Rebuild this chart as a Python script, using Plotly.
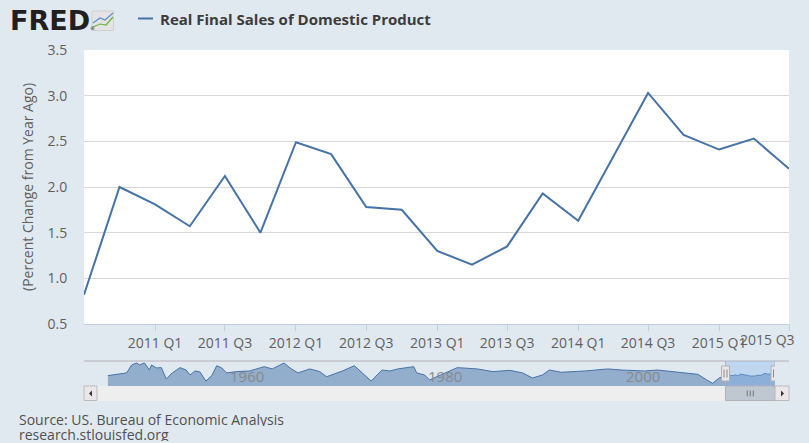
import plotly.graph_objects as go

# ---------------- data ----------------
DATES = ["2010-07-01", "2010-10-01", "2011-01-01", "2011-04-01", "2011-07-01", "2011-10-01",
         "2012-01-01", "2012-04-01", "2012-07-01", "2012-10-01", "2013-01-01", "2013-04-01",
         "2013-07-01", "2013-10-01", "2014-01-01", "2014-04-01", "2014-07-01", "2014-10-01",
         "2015-01-01", "2015-04-01", "2015-07-01"]
VALUES = [0.82, 2.00, 1.81, 1.57, 2.12, 1.50, 2.49, 2.36, 1.78, 1.75, 1.30, 1.15,
          1.35, 1.93, 1.63, 2.33, 3.03, 2.57, 2.41, 2.53, 2.20]

TICK_DATES = ["2011-01-01", "2011-07-01", "2012-01-01", "2012-07-01", "2013-01-01",
              "2013-07-01", "2014-01-01", "2014-07-01", "2015-01-01", "2015-07-01"]
TICK_LABELS = ["2011 Q1", "2011 Q3", "2012 Q1", "2012 Q3", "2013 Q1",
               "2013 Q3", "2014 Q1", "2014 Q3", "2015 Q1", "2015 Q3"]
Y_TICKS = [0.5, 1.0, 1.5, 2.0, 2.5, 3.0, 3.5]

# navigator (full history, approximate, read from the overview strip)
NAV_YEARS = [1948.1, 1949.3, 1950.0, 1950.5, 1951.0, 1951.3, 1951.8, 1952.3, 1952.5, 1953.0,
             1953.5, 1954.0, 1954.6, 1955.4, 1956.0, 1956.4, 1956.9, 1957.4, 1958.0, 1958.6,
             1959.1, 1959.6, 1960.1, 1961.1, 1962.4, 1963.9, 1964.7, 1965.9, 1966.5, 1967.3,
             1968.5, 1969.5, 1970.2, 1971.8, 1973.0, 1973.8, 1974.7, 1975.8, 1976.6, 1977.4,
             1978.1, 1979.0, 1979.3, 1980.1, 1980.6, 1981.6, 1983.4, 1985.4, 1987.0, 1988.7,
             1990.0, 1991.0, 1992.0, 1992.7, 1993.9, 1996.3, 1998.6, 2000.0, 2002.3, 2003.6,
             2005.7, 2007.7, 2008.6, 2009.2, 2009.9]
NAV_VALUES = [1.6, 2.6, 3.3, 8.3, 9.5, 8.3, 9.5, 5.1, 8.3, 6.4,
              6.6, -0.5, 3.3, 6.6, 5.1, 2.0, 4.5, 3.9, -1.8, 1.6,
              7.8, 6.4, 3.3, 4.1, 4.5, 7.2, 5.8, 9.5, 6.4, 3.3,
              5.8, 4.1, 0.9, 4.5, 7.8, 3.3, -1.8, 5.1, 4.5, 5.8,
              6.6, 7.2, 3.3, 2.0, -1.1, 1.6, 6.6, 5.8, 4.1, 4.9,
              3.3, 0.1, 2.0, 5.1, 3.7, 4.5, 5.8, 5.1, 4.5, 5.1,
              3.7, 2.4, -1.1, -3.2, 0.3]
NAV_RANGE_YEARS = [1947.0, 2015.5]
NAV_Y_RANGE = [-4.9, 10.75]
NAV_LABEL_YEARS = [1960, 1980, 2000]

SERIES_NAME = "Real Final Sales of Domestic Product"
Y_TITLE = "(Percent Change from Year Ago)"
SOURCE_LINES = ["Source: US. Bureau of Economic Analysis", "research.stlouisfed.org"]

# ---------------- style ----------------
BG = "#e1e9f0"
LINE = "#4572a7"
TEXT = "#606060"
FONT = "Open Sans"

W, H = 809, 443
L, R, T, B = 84, 20, 50, 42
PW, PH = W - L - R, H - T - B


def px(x):
    return (x - L) / PW


def py(y):
    return (H - B - y) / PH


def to_year(d):
    y, m, _ = d.split("-")
    return int(y) + (int(m) - 1) / 12.0


main_years = [to_year(d) for d in DATES]
nav_x = NAV_YEARS + main_years
nav_y = NAV_VALUES + VALUES
sel0, sel1 = main_years[0], main_years[-1]

fig = go.Figure()

fig.add_trace(go.Scatter(x=DATES, y=VALUES, mode="lines", name=SERIES_NAME,
                         line=dict(color=LINE, width=2), xaxis="x", yaxis="y"))

# navigator area
fig.add_trace(go.Scatter(x=nav_x, y=[NAV_Y_RANGE[0]] * len(nav_x), mode="lines",
                         line=dict(width=0, color=LINE), hoverinfo="skip",
                         xaxis="x2", yaxis="y2"))
fig.add_trace(go.Scatter(x=nav_x, y=nav_y, mode="lines", fill="tonexty",
                         fillcolor="rgba(69,114,167,0.5)",
                         line=dict(color=LINE, width=1), hoverinfo="skip",
                         xaxis="x2", yaxis="y2"))

shapes = []
# white plot area
shapes.append(dict(type="rect", xref="x domain", yref="y domain", x0=0, x1=1, y0=0, y1=1,
                   fillcolor="white", line=dict(width=0), layer="below"))
# navigator outline
shapes.append(dict(type="line", xref="paper", yref="paper", x0=0, x1=1, y0=py(361), y1=py(361),
                   line=dict(color="#b2b1b6", width=1)))
# selection mask
shapes.append(dict(type="rect", xref="x2", yref="paper", x0=sel0, x1=sel1, y0=py(386), y1=py(361),
                   fillcolor="rgba(130,180,240,0.35)", line=dict(width=0), layer="above"))
# scrollbar track
shapes.append(dict(type="rect", xref="paper", yref="paper", x0=0, x1=1, y0=py(401), y1=py(386),
                   fillcolor="#eeeeee", line=dict(width=0)))
# scroll buttons
for a, b in [(84, 97), (775, 789)]:
    shapes.append(dict(type="rect", xref="paper", yref="paper", x0=px(a), x1=px(b),
                       y0=py(400.5), y1=py(386), fillcolor="#ebe7e8",
                       line=dict(color="#bbbbbb", width=1)))
# scroll thumb
shapes.append(dict(type="rect", xref="x2", yref="paper", x0=sel0, x1=sel1,
                   y0=py(400.5), y1=py(386), fillcolor="#bfc8d1",
                   line=dict(color="#b2b1b6", width=1)))
mid = (sel0 + sel1) / 2
for off in (-3, 0, 3):
    shapes.append(dict(type="line", xref="x2", yref="paper", xsizemode="pixel", xanchor=mid,
                       x0=off, x1=off, y0=py(396.5), y1=py(390.5),
                       line=dict(color="#777777", width=1)))


def tri(points):
    p = "M " + " L ".join(f"{px(x):.5f},{py(y):.5f}" for x, y in points) + " Z"
    return dict(type="path", xref="paper", yref="paper", path=p,
                fillcolor="#333333", line=dict(width=0))


shapes.append(tri([(92, 390.5), (92, 396.5), (89, 393.5)]))
shapes.append(tri([(781, 390.5), (781, 396.5), (784, 393.5)]))

# selection edges and handles
for s in (sel0, sel1):
    shapes.append(dict(type="line", xref="x2", yref="paper", x0=s, x1=s, y0=py(386), y1=py(361),
                       line=dict(color="#b2b1b6", width=1)))
    shapes.append(dict(type="rect", xref="x2", yref="paper", xsizemode="pixel", xanchor=s,
                       x0=-4, x1=4, ysizemode="pixel", yanchor=py(373.5), y0=-7.5, y1=7.5,
                       fillcolor="#ebe7e8", line=dict(color="#b2b1b6", width=1)))
    for off in (-1.5, 1.5):
        shapes.append(dict(type="line", xref="x2", yref="paper", xsizemode="pixel", xanchor=s,
                           x0=off, x1=off, ysizemode="pixel", yanchor=py(373.5), y0=-4, y1=4,
                           line=dict(color="#888888", width=1)))

# legend line
shapes.append(dict(type="line", xref="paper", yref="paper", x0=px(138), x1=px(153),
                   y0=py(18.5), y1=py(18.5), line=dict(color=LINE, width=2)))

# FRED icon
shapes.append(dict(type="rect", xref="paper", yref="paper", x0=px(92), x1=px(113.5),
                   y0=py(30.5), y1=py(11), fillcolor="#e4e4e4", line=dict(color="#cfcfcf", width=1)))


def poly(points, color):
    p = "M " + " L ".join(f"{px(x):.5f},{py(y):.5f}" for x, y in points)
    return dict(type="path", xref="paper", yref="paper", path=p,
                line=dict(color=color, width=1.2))


shapes.append(poly([(93, 23), (100, 18), (105, 20), (113, 13)], "#5b8ed0"))
shapes.append(poly([(93, 27), (100, 24), (106, 25), (113, 17)], "#6cb33f"))

annotations = []
# last x tick label (kept inside the chart)
annotations.append(dict(text=TICK_LABELS[-1], xref="x", x=TICK_DATES[-1], xanchor="right",
                        xshift=8, yref="paper", y=py(339), yanchor="middle", showarrow=False,
                        font=dict(family=FONT, size=14, color=TEXT)))
# y axis title
annotations.append(dict(text=Y_TITLE, xref="paper", x=px(27), xanchor="center",
                        yref="y domain", y=0.5, yanchor="middle", textangle=-90, showarrow=False,
                        font=dict(family=FONT, size=14, color=TEXT)))
# navigator labels
for yr in NAV_LABEL_YEARS:
    annotations.append(dict(text=str(yr), xref="x2", x=yr, xanchor="left", xshift=2,
                            yref="paper", y=py(376), yanchor="middle", showarrow=False,
                            font=dict(family=FONT, size=15, color="#8a8a8a")))
# header
annotations.append(dict(text="<b>FRED</b>", xref="paper", x=px(8), xanchor="left",
                        yref="paper", y=py(21), yanchor="middle", showarrow=False,
                        font=dict(family="DejaVu Sans", size=27, color="#231f20")))
annotations.append(dict(text="®", xref="paper", x=px(88.5), xanchor="left", borderpad=0,
                        yref="paper", y=py(28), yanchor="middle", showarrow=False,
                        font=dict(family="DejaVu Sans", size=5, color="#231f20")))
annotations.append(dict(text="<b>" + SERIES_NAME + "</b>", xref="paper", x=px(158), xanchor="left",
                        yref="paper", y=py(18.5), yanchor="middle", showarrow=False,
                        font=dict(family=FONT, size=15, color="#3c3c3c")))
# source
for txt, yy in zip(SOURCE_LINES, (419, 434)):
    annotations.append(dict(text=txt, xref="paper", x=px(18), xanchor="left",
                            yref="paper", y=py(yy), yanchor="middle", showarrow=False,
                            height=14, valign="middle", borderpad=0,
                            font=dict(family=FONT, size=14, color="#505050")))

fig.update_layout(
    width=W, height=H,
    margin=dict(l=L, r=R, t=T, b=B, pad=0),
    paper_bgcolor=BG, plot_bgcolor=BG,
    showlegend=False,
    font=dict(family=FONT, color=TEXT),
    xaxis=dict(type="date", range=[DATES[0], DATES[-1]], domain=[0, 1], anchor="y",
               tickmode="array", tickvals=TICK_DATES,
               ticktext=TICK_LABELS[:-1] + [""],
               ticks="outside", ticklen=6, tickcolor="#c0d0e0",
               showline=True, linecolor="#c0d0e0", linewidth=1,
               showgrid=False, zeroline=False,
               tickfont=dict(family=FONT, size=14, color=TEXT)),
    yaxis=dict(range=[Y_TICKS[0], Y_TICKS[-1]], domain=[py(324), py(50)], anchor="x",
               tickmode="array", tickvals=Y_TICKS, ticktext=[f"{v:.1f}" for v in Y_TICKS],
               ticks="outside", ticklen=13, tickcolor="rgba(0,0,0,0)",
               showgrid=True, gridcolor="#d8d8d8", gridwidth=1,
               showline=False, zeroline=False,
               tickfont=dict(family=FONT, size=14, color=TEXT)),
    xaxis2=dict(range=NAV_RANGE_YEARS, domain=[px(97), px(775)], anchor="y2",
                tickmode="array", tickvals=NAV_LABEL_YEARS, showticklabels=False,
                showgrid=True, gridcolor="#e6e6e6", gridwidth=1,
                showline=False, zeroline=False, ticks=""),
    yaxis2=dict(range=NAV_Y_RANGE, domain=[py(386), py(361)], anchor="x2",
                visible=False, showgrid=False, zeroline=False),
    shapes=shapes,
    annotations=annotations,
)

fig.write_html("out.html",
               config={"displayModeBar": False},
               post_script="document.body.style.margin='0';document.body.style.padding='0';"
                           "document.body.style.background='" + BG + "';")
